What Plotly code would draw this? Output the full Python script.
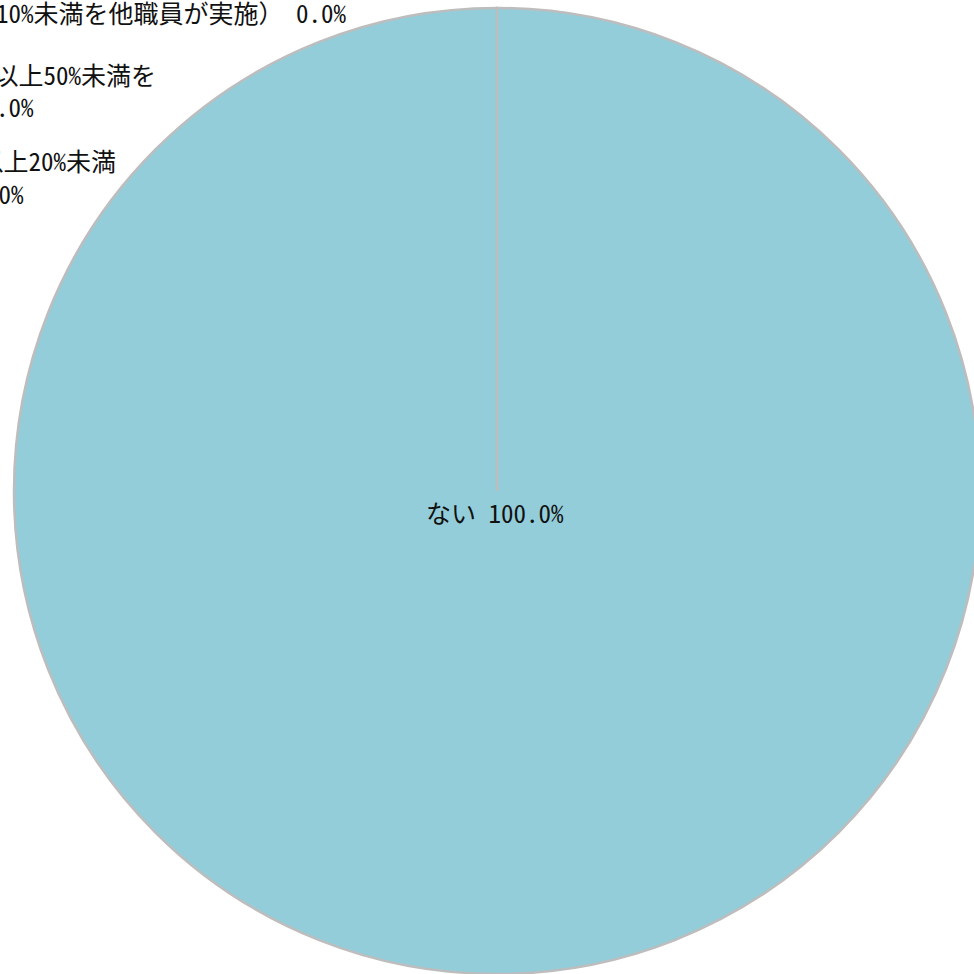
import plotly.graph_objects as go

categories = [
    "ある（業務の10%未満を他職員が実施）",
    "ある（業務の20%以上50%未満を<br>他職員が実施）",
    "ある（業務の10%以上20%未満<br>を他職員が実施）",
    "ない",
]
values = [0, 0, 0, 100]

W = H = 990          # figure slightly larger than the window; the pie runs off the right/bottom edge
FILL = "#93CDDA"
EDGE = "#BDBDBD"
FONT = "Noto Sans Mono CJK JP, Noto Sans CJK JP, sans-serif"
FS = 25

total = sum(values)
pcts = [v / total * 100 for v in values]

# pie placement (pixels)
cx, cy, r = 497, 491, 483
dom_x = [(cx - r) / W, (cx + r) / W]
dom_y = [1 - (cy + r) / H, 1 - (cy - r) / H]

fig = go.Figure(go.Pie(
    labels=[c.replace("<br>", "") for c in categories],
    values=values,
    sort=False,
    direction="clockwise",
    rotation=0,
    marker=dict(colors=[FILL] * len(values), line=dict(color=EDGE, width=2.5)),
    textinfo="none",
    hoverinfo="label+percent",
    showlegend=False,
    domain=dict(x=dom_x, y=dom_y),
))

# radial boundary line of the zero-size slices (from center to top)
fig.add_shape(type="line", xref="paper", yref="paper",
              x0=cx / W, x1=cx / W, y0=1 - cy / H, y1=dom_y[1],
              line=dict(color=EDGE, width=2.5))

# outside labels for zero slices: (right end px, y center px) per line
label_pos = [
    [(349, 12)],
    [(158, 74), (36, 106)],
    [(118, 160), (26, 193)],
]
for i, pos in enumerate(label_pos):
    text = f"{categories[i]} {pcts[i]:.1f}%"
    lines = text.split("<br>")
    for line, (xr, yc) in zip(lines, pos):
        fig.add_annotation(text=line, xref="paper", yref="paper",
                           x=xr / W, y=1 - yc / H, xanchor="right", yanchor="middle",
                           showarrow=False, font=dict(family=FONT, size=FS, color="#111111"))

# center label
fig.add_annotation(text=f"{categories[3]} {pcts[3]:.1f}%", xref="paper", yref="paper",
                   x=495 / W, y=1 - 512 / H, xanchor="center", yanchor="middle",
                   showarrow=False, font=dict(family=FONT, size=FS, color="#111111"))

fig.update_layout(width=W, height=H, margin=dict(l=0, r=0, t=0, b=0),
                  paper_bgcolor="white", plot_bgcolor="white")
fig.write_html("out.html", config={"displayModeBar": False},
               post_script="document.body.style.margin='0';document.body.style.overflow='hidden';")
